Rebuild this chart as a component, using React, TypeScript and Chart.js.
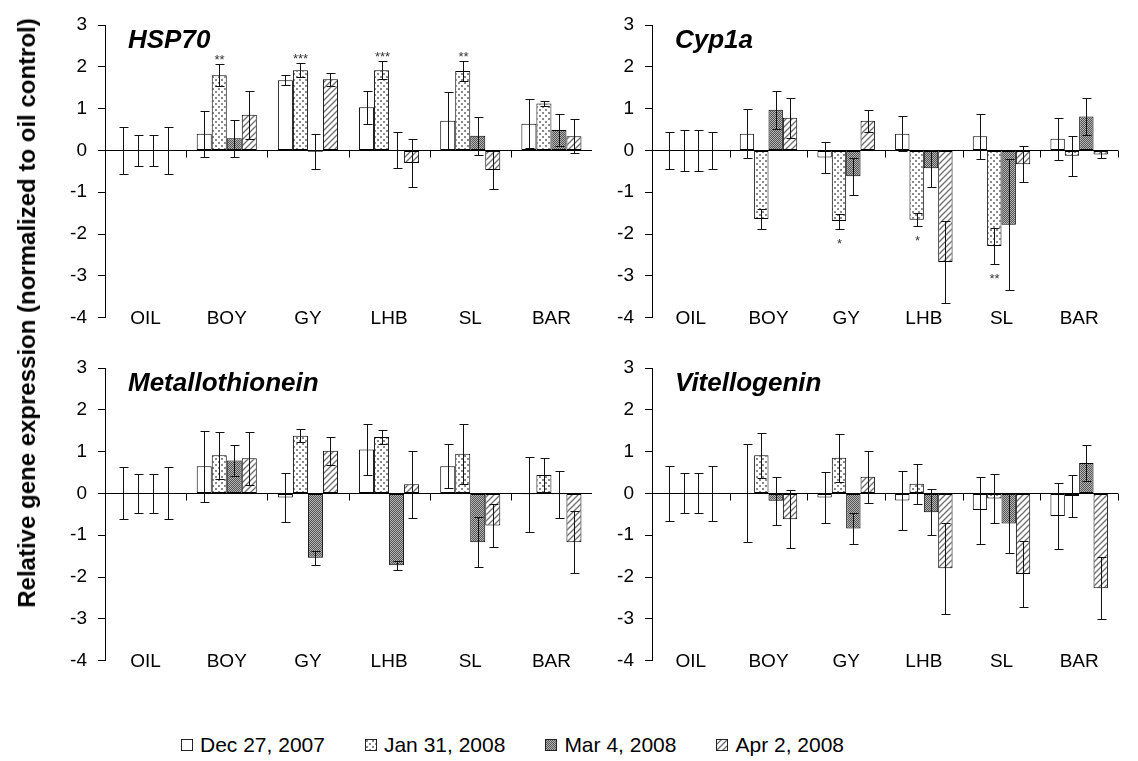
import React, { useEffect, useRef } from 'react';
import { Chart, registerables } from 'chart.js';
Chart.register(...registerables);

const FONT = "'Liberation Sans', Arial, Helvetica, sans-serif";

const categories = ['OIL', 'BOY', 'GY', 'LHB', 'SL', 'BAR'];
const seriesLabels = ['Dec 27, 2007', 'Jan 31, 2008', 'Mar 4, 2008', 'Apr 2, 2008'];
const yTicks = [3, 2, 1, 0, -1, -2, -3, -4];
const yTitle = 'Relative gene expression (normalized to oil control)';

// HSP70
const hspDec = [0, 0.40, 1.68, 1.03, 0.71, 0.64];
const hspDecErr = [0.57, 0.55, 0.12, 0.40, 0.68, 0.58];
const hspJan = [0, 1.80, 1.92, 1.92, 1.90, 1.12];
const hspJanErr = [0.37, 0.26, 0.17, 0.21, 0.23, 0.06];
const hspMar = [0, 0.29, -0.03, 0.0, 0.35, 0.49];
const hspMarErr = [0.37, 0.44, 0.42, 0.43, 0.45, 0.38];
const hspApr = [0, 0.85, 1.70, -0.30, -0.47, 0.34];
const hspAprErr = [0.57, 0.58, 0.15, 0.58, 0.45, 0.40];
const hspStars = ['', '**', '***', '***', '**', ''];

// Cyp1a
const cypDec = [0, 0.40, -0.17, 0.40, 0.34, 0.28];
const cypDecErr = [0.44, 0.58, 0.37, 0.42, 0.54, 0.50];
const cypJan = [0, -1.64, -1.69, -1.66, -2.29, -0.13];
const cypJanErr = [0.49, 0.24, 0.18, 0.16, 0.43, 0.48];
const cypMar = [0, 0.97, -0.62, -0.43, -1.78, 0.81];
const cypMarErr = [0.49, 0.45, 0.44, 0.45, 1.57, 0.45];
const cypApr = [0, 0.78, 0.71, -2.67, -0.33, -0.10];
const cypAprErr = [0.44, 0.48, 0.26, 0.99, 0.43, 0.09];
const cypStars = ['', '', '*', '*', '**', ''];

// Metallothionein
const mtDec = [0, 0.65, -0.10, 1.05, 0.65, -0.02];
const mtDecErr = [0.62, 0.85, 0.59, 0.62, 0.53, 0.90];
const mtJan = [0, 0.91, 1.38, 1.35, 0.95, 0.44];
const mtJanErr = [0.47, 0.56, 0.15, 0.16, 0.72, 0.41];
const mtMar = [0, 0.79, -1.54, -1.72, -1.17, -0.02];
const mtMarErr = [0.47, 0.37, 0.17, 0.11, 0.60, 0.56];
const mtApr = [0, 0.84, 1.02, 0.22, -0.77, -1.17];
const mtAprErr = [0.62, 0.63, 0.33, 0.80, 0.51, 0.74];
const mtStars = ['', '', '', '', '', ''];

// Vitellogenin
const vtgDec = [0, 0.0, -0.10, -0.17, -0.40, -0.54];
const vtgDecErr = [0.65, 1.17, 0.62, 0.71, 0.80, 0.78];
const vtgJan = [0, 0.91, 0.85, 0.23, -0.12, -0.06];
const vtgJanErr = [0.48, 0.53, 0.58, 0.48, 0.59, 0.50];
const vtgMar = [0, -0.175, -0.84, -0.45, -0.72, 0.73];
const vtgMarErr = [0.48, 0.57, 0.36, 0.55, 0.70, 0.43];
const vtgApr = [0, -0.62, 0.40, -1.79, -1.93, -2.27];
const vtgAprErr = [0.65, 0.69, 0.62, 1.09, 0.79, 0.74];
const vtgStars = ['', '', '', '', '', ''];

const fills = ['white', 'dots', 'dense', 'hatch'];

function makeTile(kind: string): HTMLCanvasElement {
  const c = document.createElement('canvas');
  const g = c.getContext('2d') as CanvasRenderingContext2D;
  if (kind === 'dots') {
    c.width = 6; c.height = 6;
    g.fillStyle = '#ffffff'; g.fillRect(0, 0, 6, 6);
    g.fillStyle = '#8a8a8a';
    g.fillRect(1, 1, 2, 2);
    g.fillRect(4, 4, 2, 2);
  } else if (kind === 'dense') {
    c.width = 2; c.height = 2;
    g.fillStyle = '#b4b4b4'; g.fillRect(0, 0, 2, 2);
    g.fillStyle = '#555555';
    g.fillRect(0, 0, 1, 1);
    g.fillRect(1, 1, 1, 1);
  } else if (kind === 'hatch') {
    c.width = 6; c.height = 6;
    g.fillStyle = '#ffffff'; g.fillRect(0, 0, 6, 6);
    g.strokeStyle = '#6e6e6e'; g.lineWidth = 1.3;
    g.beginPath();
    g.moveTo(0, 6); g.lineTo(6, 0);
    g.moveTo(-1, 1); g.lineTo(1, -1);
    g.moveTo(5, 7); g.lineTo(7, 5);
    g.stroke();
  } else {
    c.width = 2; c.height = 2;
    g.fillStyle = '#ffffff'; g.fillRect(0, 0, 2, 2);
  }
  return c;
}

function makeFill(ctx: CanvasRenderingContext2D, kind: string): any {
  if (kind === 'white') return '#ffffff';
  return ctx.createPattern(makeTile(kind), 'repeat');
}

const panelPlugin = {
  id: 'panelDecor',
  afterDatasetsDraw(chart: any, _args: any, opts: any) {
    const { ctx, chartArea, scales } = chart;
    const xs = scales.x;
    const ys = scales.y;
    const y0 = Math.round(ys.getPixelForValue(0)) + 0.5;
    ctx.save();
    ctx.strokeStyle = '#000';
    ctx.lineWidth = 1;
    // zero axis line
    ctx.beginPath();
    ctx.moveTo(chartArea.left, y0);
    ctx.lineTo(chartArea.right, y0);
    ctx.stroke();
    // category boundary ticks
    const labels = chart.data.labels as string[];
    const n = labels.length;
    ctx.beginPath();
    for (let i = 1; i <= n; i++) {
      const bx = i < n ? (xs.getPixelForValue(i - 1) + xs.getPixelForValue(i)) / 2 : chartArea.right;
      const px = Math.round(bx) + 0.5;
      ctx.moveTo(px, y0);
      ctx.lineTo(px, y0 + 7);
    }
    ctx.stroke();
    // category labels along the bottom of the plot
    ctx.fillStyle = '#000';
    ctx.font = `19px ${FONT}`;
    ctx.textAlign = 'center';
    ctx.textBaseline = 'middle';
    labels.forEach((lab, i) => {
      ctx.fillText(lab, xs.getPixelForValue(i), chartArea.bottom + 1.5);
    });
    // error bars
    ctx.strokeStyle = '#111';
    chart.data.datasets.forEach((ds: any, di: number) => {
      const meta = chart.getDatasetMeta(di);
      meta.data.forEach((bar: any, i: number) => {
        const v = ds.data[i];
        const e = ds.errors[i];
        const cx = Math.round(bar.x) + 0.5;
        const yt = Math.round(ys.getPixelForValue(v + e)) + 0.5;
        const yb = Math.round(ys.getPixelForValue(v - e)) + 0.5;
        ctx.beginPath();
        ctx.moveTo(cx, yt); ctx.lineTo(cx, yb);
        ctx.moveTo(cx - 4, yt); ctx.lineTo(cx + 5, yt);
        ctx.moveTo(cx - 4, yb); ctx.lineTo(cx + 5, yb);
        ctx.stroke();
        if (ds.stars && ds.stars[i]) {
          ctx.fillStyle = '#333';
          ctx.font = `13px ${FONT}`;
          ctx.textAlign = 'center';
          ctx.textBaseline = 'alphabetic';
          if (ds.starsBelow) ctx.fillText(ds.stars[i], cx, yb + 18);
          else ctx.fillText(ds.stars[i], cx, yt - 1);
        }
      });
    });
    // panel title
    ctx.fillStyle = '#000';
    ctx.font = `italic bold 26px ${FONT}`;
    ctx.textAlign = 'left';
    ctx.textBaseline = 'alphabetic';
    ctx.fillText(opts.title, chartArea.left + 23, chartArea.top + 23);
    ctx.restore();
  },
};

type PanelProps = {
  title: string;
  values: number[][];
  errors: number[][];
  stars: string[];
  starsBelow: boolean;
  left: number;
  top: number;
  width: number;
  padRight: number;
};

function Panel(p: PanelProps) {
  const ref = useRef<HTMLCanvasElement | null>(null);
  useEffect(() => {
    const canvas = ref.current as HTMLCanvasElement;
    const ctx = canvas.getContext('2d') as CanvasRenderingContext2D;
    const chart = new Chart(canvas, {
      type: 'bar',
      data: {
        labels: categories,
        datasets: p.values.map((vals, si) => ({
          label: seriesLabels[si],
          data: vals,
          errors: p.errors[si],
          stars: si === 1 ? p.stars : null,
          starsBelow: p.starsBelow,
          backgroundColor: makeFill(ctx, fills[si]),
          borderColor: '#000',
          borderWidth: 1,
          borderSkipped: false,
          categoryPercentage: 0.74,
          barPercentage: 1.0,
        })) as any,
      },
      options: {
        animation: false,
        responsive: false,
        devicePixelRatio: 1,
        layout: { padding: { top: 25, right: p.padRight, left: 0, bottom: 0 } },
        plugins: {
          legend: { display: false },
          tooltip: { enabled: false },
          title: { display: false },
          panelDecor: { title: p.title },
        } as any,
        scales: {
          x: {
            type: 'category',
            grid: { display: false, drawTicks: false },
            border: { display: false },
            ticks: { display: false },
            afterFit: (s: any) => { s.height = 20; },
          },
          y: {
            min: -4,
            max: 3,
            afterBuildTicks: (s: any) => { s.ticks = yTicks.map((v) => ({ value: v })); },
            ticks: {
              color: '#000',
              font: { family: FONT, size: 19 },
              padding: 11,
            },
            grid: { drawOnChartArea: false, drawTicks: true, tickLength: 7, color: '#000' },
            border: { display: true, color: '#000', width: 1 },
            afterFit: (s: any) => { s.width = 65; },
          },
        },
      } as any,
      plugins: [panelPlugin as any],
    });
    return () => chart.destroy();
  }, []);
  const h = 340;
  return (
    <canvas
      ref={ref}
      width={p.width}
      height={h}
      style={{ position: 'absolute', left: p.left, top: p.top, width: p.width, height: h }}
    />
  );
}

function Swatch({ kind }: { kind: string }) {
  const ref = useRef<HTMLCanvasElement | null>(null);
  useEffect(() => {
    const c = ref.current as HTMLCanvasElement;
    const g = c.getContext('2d') as CanvasRenderingContext2D;
    g.clearRect(0, 0, 12, 12);
    g.fillStyle = makeFill(g, kind);
    g.fillRect(0.5, 0.5, 11, 11);
    g.strokeStyle = '#222';
    g.lineWidth = 1;
    g.strokeRect(0.5, 0.5, 11, 11);
  }, [kind]);
  return <canvas ref={ref} width={12} height={12} style={{ width: 12, height: 12, display: 'block' }} />;
}

export default function App() {
  return (
    <div
      style={{
        position: 'absolute',
        left: 0,
        top: 0,
        width: 1138,
        height: 761,
        background: '#ffffff',
        overflow: 'hidden',
        fontFamily: FONT,
      }}
    >
      <Panel
        title="HSP70"
        values={[hspDec, hspJan, hspMar, hspApr]}
        errors={[hspDecErr, hspJanErr, hspMarErr, hspAprErr]}
        stars={hspStars}
        starsBelow={false}
        left={40}
        top={0}
        width={552}
        padRight={0}
      />
      <Panel
        title="Cyp1a"
        values={[cypDec, cypJan, cypMar, cypApr]}
        errors={[cypDecErr, cypJanErr, cypMarErr, cypAprErr]}
        stars={cypStars}
        starsBelow={true}
        left={587}
        top={0}
        width={551}
        padRight={20}
      />
      <Panel
        title="Metallothionein"
        values={[mtDec, mtJan, mtMar, mtApr]}
        errors={[mtDecErr, mtJanErr, mtMarErr, mtAprErr]}
        stars={mtStars}
        starsBelow={false}
        left={40}
        top={343}
        width={552}
        padRight={0}
      />
      <Panel
        title="Vitellogenin"
        values={[vtgDec, vtgJan, vtgMar, vtgApr]}
        errors={[vtgDecErr, vtgJanErr, vtgMarErr, vtgAprErr]}
        stars={vtgStars}
        starsBelow={false}
        left={587}
        top={343}
        width={551}
        padRight={20}
      />
      <div
        style={{
          position: 'absolute',
          left: 27,
          top: 313,
          transform: 'translate(-50%, -50%) rotate(-90deg)',
          whiteSpace: 'nowrap',
          fontWeight: 'bold',
          fontSize: 24,
          color: '#000',
        }}
      >
        {yTitle}
      </div>
      <div
        style={{
          position: 'absolute',
          left: 181,
          top: 733,
          height: 24,
          display: 'flex',
          alignItems: 'center',
          fontSize: 21,
          color: '#000',
          whiteSpace: 'nowrap',
        }}
      >
        {seriesLabels.map((lab, i) => (
          <div key={lab} style={{ display: 'flex', alignItems: 'center', marginRight: i < 3 ? 40 : 0 }}>
            <Swatch kind={fills[i]} />
            <span style={{ marginLeft: 7 }}>{lab}</span>
          </div>
        ))}
      </div>
    </div>
  );
}
